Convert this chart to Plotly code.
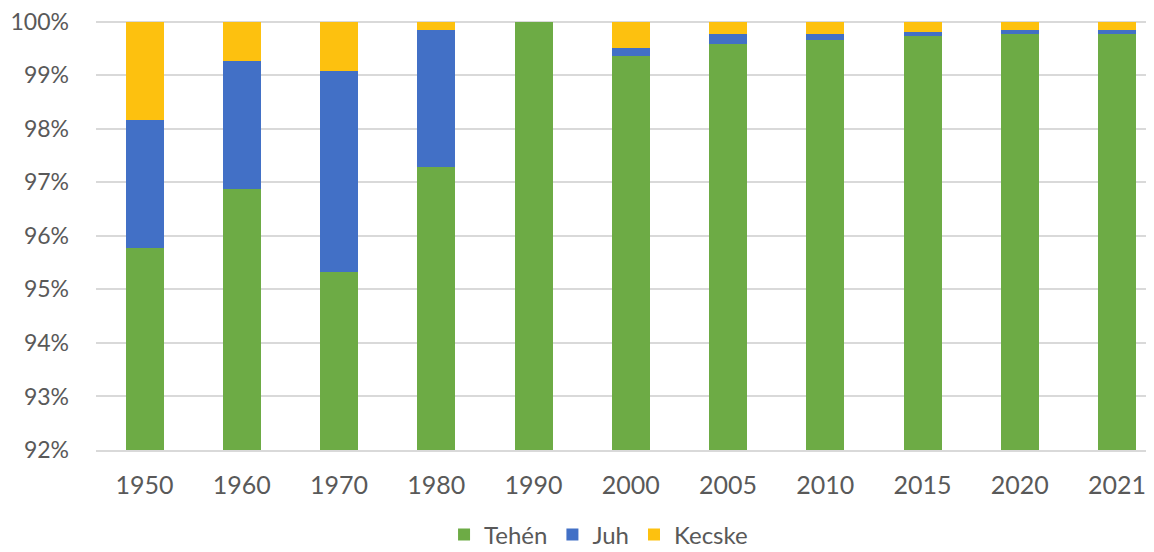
import plotly.graph_objects as go

years = ["1950", "1960", "1970", "1980", "1990", "2000", "2005", "2010", "2015", "2020", "2021"]
tehen = [95.77, 96.87, 95.32, 97.28, 100.0, 99.35, 99.58, 99.66, 99.73, 99.76, 99.77]
juh = [2.40, 2.39, 3.75, 2.56, 0.0, 0.15, 0.19, 0.11, 0.08, 0.08, 0.07]
kecske = [1.83, 0.74, 0.93, 0.16, 0.0, 0.50, 0.23, 0.23, 0.19, 0.16, 0.16]
y_ticks = [92, 93, 94, 95, 96, 97, 98, 99, 100]

FONT = "Lato, sans-serif"
GRAY = "#595959"
FS = 25

fig = go.Figure()
series = [("Tehén", tehen, "#6dab45"), ("Juh", juh, "#4270c6"), ("Kecske", kecske, "#fdc10f")]
for name, vals, col in series:
    fig.add_trace(go.Bar(
        x=years, y=vals, name=name, width=0.39,
        marker=dict(color=col, line=dict(width=0)),
    ))

fig.update_layout(
    width=1146, height=544,
    barmode="stack",
    paper_bgcolor="white", plot_bgcolor="white",
    margin=dict(l=88, r=0, t=12, b=102, autoexpand=False),
    font=dict(family=FONT, size=FS, color=GRAY),
    showlegend=True,
    legend=dict(orientation="h", x=0.475, xanchor="center", y=-0.145, yanchor="top",
                font=dict(size=24, color=GRAY), itemwidth=30, traceorder="normal"),
    xaxis=dict(type="category", range=[-0.5, 10.38], showgrid=False,
               showline=True, linecolor="#d9d9d9", linewidth=2,
               tickfont=dict(size=FS, color=GRAY), ticks="", ticklabelstandoff=12),
    yaxis=dict(range=[92, 100.03], tickvals=y_ticks, ticktext=[f"{v}%" for v in y_ticks],
               showgrid=True, gridcolor="#d9d9d9", gridwidth=1.5,
               zeroline=False, showline=False, ticks="", ticklabeloverflow="allow",
               tickfont=dict(size=23, color=GRAY), ticklabelstandoff=26),
)

fig.write_html("out.html")
